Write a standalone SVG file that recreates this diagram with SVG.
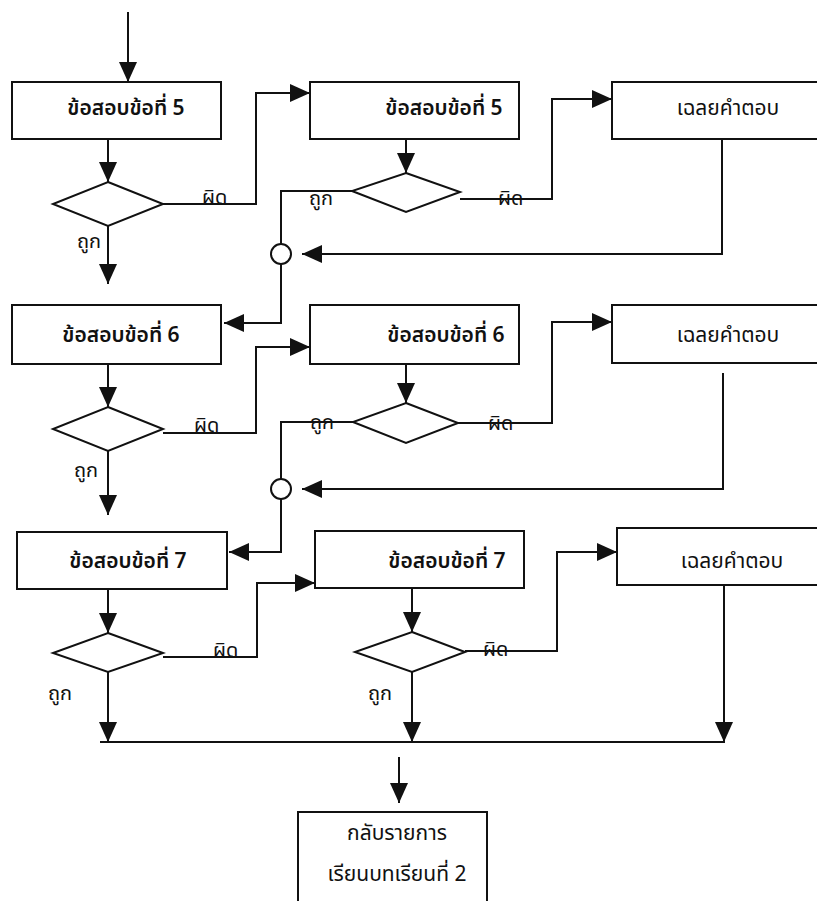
<svg xmlns="http://www.w3.org/2000/svg" width="817" height="901" viewBox="0 0 817 901">
  <style>
    .box { fill: #ffffff; stroke: #111111; stroke-width: 2; }
    .dia { fill: #ffffff; stroke: #111111; stroke-width: 2; }
    .ln { fill: none; stroke: #111111; stroke-width: 2; }
    .arr { fill: none; stroke: #111111; stroke-width: 2; marker-end: url(#head); }
    .t { font-family: "Noto Sans Thai", "Noto Sans", "DejaVu Sans", sans-serif; font-size: 21px; fill: #111111; text-anchor: middle; }
    .b { font-weight: 600; }
    .lb { font-family: "Noto Sans Thai", "Noto Sans", "DejaVu Sans", sans-serif; font-size: 20px; fill: #111111; }
  </style>
  <defs>
    <marker id="head" viewBox="0 0 20 18" refX="20" refY="9" markerWidth="20" markerHeight="18" markerUnits="userSpaceOnUse" orient="auto">
      <path d="M0,0 L20,9 L0,18 Z" fill="#111111"/>
    </marker>
  </defs>
  <rect width="817" height="901" fill="#ffffff"/>

  <!-- connectors -->
  <g id="connectors">
    <!-- entry -->
    <path class="arr" d="M128,12 V82"/>
    <!-- row 1 -->
    <path class="arr" d="M108,139 V182"/>
    <path class="arr" d="M108,226 V284"/>
    <path class="arr" d="M163,204 H256 V93 H310"/>
    <path class="arr" d="M406,139 V173"/>
    <path class="arr" d="M460,199 H552 V99 H612"/>
    <path class="ln" d="M352,191 H281 V244"/>
    <path class="arr" d="M722,139 V254 H302"/>
    <path class="arr" d="M281,264 V323 H224"/>
    <!-- row 2 -->
    <path class="arr" d="M108,364 V407"/>
    <path class="arr" d="M108,451 V515"/>
    <path class="arr" d="M163,433 H256 V347 H310"/>
    <path class="arr" d="M406,364 V403"/>
    <path class="arr" d="M458,423 H552 V322 H612"/>
    <path class="ln" d="M353,422 H281 V479"/>
    <path class="arr" d="M723,373 V489 H302"/>
    <path class="arr" d="M281,499 V552 H229"/>
    <!-- row 3 -->
    <path class="arr" d="M108,589 V633"/>
    <path class="arr" d="M108,672 V742"/>
    <path class="arr" d="M163,657 H257 V583 H315"/>
    <path class="arr" d="M412,588 V632"/>
    <path class="arr" d="M412,672 V742"/>
    <path class="arr" d="M465,651 H557 V552 H617"/>
    <path class="arr" d="M724,585 V742"/>
    <path class="ln" d="M100,742 H725"/>
    <path class="arr" d="M399,757 V803"/>
    <!-- merge points -->
    <circle class="ln" cx="281" cy="254" r="10"/>
    <circle class="ln" cx="281" cy="489" r="10"/>
    <!-- branch labels -->
    <text class="lb" x="202" y="204">ผิด</text>
    <text class="lb" x="77" y="248">ถูก</text>
    <text class="lb" x="498" y="205">ผิด</text>
    <text class="lb" x="309" y="205">ถูก</text>
    <text class="lb" x="194" y="432">ผิด</text>
    <text class="lb" x="74" y="477">ถูก</text>
    <text class="lb" x="488" y="430">ผิด</text>
    <text class="lb" x="310" y="429">ถูก</text>
    <text class="lb" x="213" y="657">ผิด</text>
    <text class="lb" x="48" y="700">ถูก</text>
    <text class="lb" x="483" y="656">ผิด</text>
    <text class="lb" x="368" y="700">ถูก</text>
  </g>

  <!-- row 1 nodes -->
  <g id="q5">
    <rect class="box" x="12" y="82" width="209" height="57"/>
    <text class="t b" x="126" y="115">ข้อสอบข้อที่ 5</text>
  </g>
  <g id="d5a"><polygon class="dia" points="108,182 163,204 108,226 53,204"/></g>
  <g id="q5r">
    <rect class="box" x="310" y="82" width="209" height="57"/>
    <text class="t b" x="444" y="115">ข้อสอบข้อที่ 5</text>
  </g>
  <g id="d5b"><polygon class="dia" points="406,173 460,192 406,212 352,191"/></g>
  <g id="a5">
    <rect class="box" x="612" y="82" width="220" height="57"/>
    <text class="t" x="728" y="115">เฉลยคำตอบ</text>
  </g>

  <!-- row 2 nodes -->
  <g id="q6">
    <rect class="box" x="12" y="305" width="209" height="59"/>
    <text class="t b" x="121" y="342">ข้อสอบข้อที่ 6</text>
  </g>
  <g id="d6a"><polygon class="dia" points="108,407 163,429 108,451 53,429"/></g>
  <g id="q6r">
    <rect class="box" x="310" y="305" width="209" height="59"/>
    <text class="t b" x="446" y="342">ข้อสอบข้อที่ 6</text>
  </g>
  <g id="d6b"><polygon class="dia" points="406,403 458,423 406,443 353,422"/></g>
  <g id="a6">
    <rect class="box" x="612" y="305" width="220" height="58"/>
    <text class="t" x="728" y="342">เฉลยคำตอบ</text>
  </g>

  <!-- row 3 nodes -->
  <g id="q7">
    <rect class="box" x="17" y="532" width="210" height="57"/>
    <text class="t b" x="128" y="568">ข้อสอบข้อที่ 7</text>
  </g>
  <g id="d7a"><polygon class="dia" points="108,633 163,653 108,672 53,653"/></g>
  <g id="q7r">
    <rect class="box" x="315" y="531" width="209" height="57"/>
    <text class="t b" x="447" y="568">ข้อสอบข้อที่ 7</text>
  </g>
  <g id="d7b"><polygon class="dia" points="412,632 465,652 412,672 355,652"/></g>
  <g id="a7">
    <rect class="box" x="617" y="528" width="215" height="57"/>
    <text class="t" x="732" y="568">เฉลยคำตอบ</text>
  </g>

  <!-- exit node -->
  <g id="back">
    <rect class="box" x="298" y="812" width="189" height="100"/>
    <text class="t" x="397" y="840">กลับรายการ</text>
    <text class="t" x="397" y="881">เรียนบทเรียนที่ 2</text>
  </g>
</svg>
